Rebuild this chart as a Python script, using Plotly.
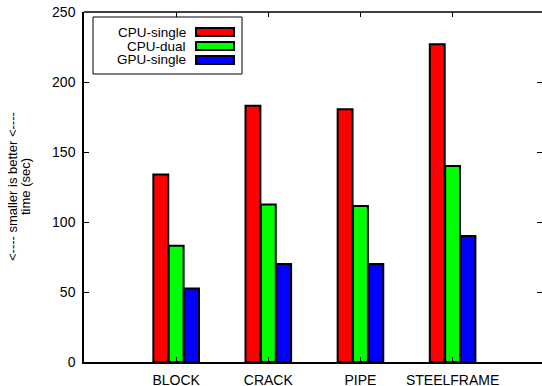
import plotly.graph_objects as go

categories = ["BLOCK", "CRACK", "PIPE", "STEELFRAME"]
series_names = ["CPU-single", "CPU-dual", "GPU-single"]
cpu_single = [134, 183, 180.5, 227]
cpu_dual = [83, 112.5, 111.5, 140]
gpu_single = [52.5, 70, 70, 90]
y_ticks = [0, 50, 100, 150, 200, 250]
colors = ["#ff0000", "#00ff00", "#0000ff"]
y_title_lines = ["<---- smaller is better <----", "time (sec)"]

W, H = 542, 386
L, R, T, B = 84, 0, 12, 24
pw, ph = W - L - R, H - T - B

x_idx = list(range(len(categories)))
x_range = [-1, 3.97]
y_range = [0, 250]

fig = go.Figure()
for name, vals, col in zip(series_names, [cpu_single, cpu_dual, gpu_single], colors):
    fig.add_trace(go.Bar(x=x_idx, y=vals, name=name,
                         marker=dict(color=col, line=dict(color="black", width=2)),
                         showlegend=False))

font = dict(family="Liberation Sans, Arial, sans-serif", size=14, color="black")
fig.update_layout(
    width=W, height=H, margin=dict(l=L, r=R, t=T, b=B, pad=0, autoexpand=False),
    paper_bgcolor="white", plot_bgcolor="white",
    barmode="group", bargap=0.5, bargroupgap=0.03,
    font=font,
    xaxis=dict(range=x_range, tickmode="array", tickvals=x_idx, ticktext=categories,
               showline=True, linecolor="black", linewidth=1.5, mirror=False, automargin=False,
               ticks="inside", ticklen=5, tickcolor="black", showgrid=False, zeroline=False,
               tickfont=font, ticklabelstandoff=4),
    yaxis=dict(range=y_range, tickmode="array", tickvals=y_ticks, showline=True, linecolor="black",
               linewidth=1.5, ticks="inside", ticklen=5, tickcolor="black", showgrid=False, zeroline=False,
               tickfont=font, ticklabelstandoff=4, automargin=False),
    # top axis: inward ticks, no labels
    xaxis2=dict(range=x_range, overlaying="x", side="top", tickmode="array", tickvals=x_idx,
                showticklabels=False, showline=False, automargin=False,
                ticks="inside", ticklen=5, tickcolor="black", showgrid=False, zeroline=False),
    # right axis: inward ticks only (no border line, as in the reference)
    yaxis2=dict(range=y_range, overlaying="y", side="right", tickmode="array", tickvals=y_ticks,
                showticklabels=False, showline=False, ticks="inside", ticklen=5, tickcolor="black",
                showgrid=False, zeroline=False, automargin=False),
)
# invisible trace to activate the top/right tick axes
fig.add_trace(go.Scatter(x=[0], y=[0], xaxis="x2", yaxis="y2", mode="markers",
                         marker=dict(opacity=0), showlegend=False, hoverinfo="skip"))

def px2x(p):
    return (p - L) / pw

def py2y(p):
    return (H - B - p) / ph

# top border of the frame
fig.add_shape(type="line", xref="paper", yref="paper", x0=0, x1=1.01, y0=1, y1=1,
              line=dict(color="black", width=1.5), layer="above")

# y-axis title, two rotated lines
title_font = dict(family=font["family"], size=13, color="black")
for line, px in zip(y_title_lines, [12, 25]):
    fig.add_annotation(xref="paper", yref="paper", x=px2x(px), y=0.5, text=line, showarrow=False,
                       textangle=-90, xanchor="center", yanchor="middle", font=title_font)

# custom legend (gnuplot style: text right-aligned, swatch on the right)
fig.add_shape(type="rect", xref="paper", yref="paper", x0=px2x(93), x1=px2x(242), y0=py2y(74), y1=py2y(17),
              line=dict(color="black", width=1), fillcolor="white", layer="above")
legend_font = dict(family=font["family"], size=13.5, color="black")
rows = [32, 46, 60]
for name, col, ry in zip(series_names, colors, rows):
    fig.add_annotation(xref="paper", yref="paper", x=px2x(187), y=py2y(ry), text=name, showarrow=False,
                       xanchor="right", yanchor="middle", font=legend_font, borderpad=0)
    fig.add_shape(type="rect", xref="paper", yref="paper", x0=px2x(196), x1=px2x(234),
                  y0=py2y(ry + 4), y1=py2y(ry - 4), line=dict(color="black", width=2), fillcolor=col,
                  layer="above")

fig.write_html("out.html")
